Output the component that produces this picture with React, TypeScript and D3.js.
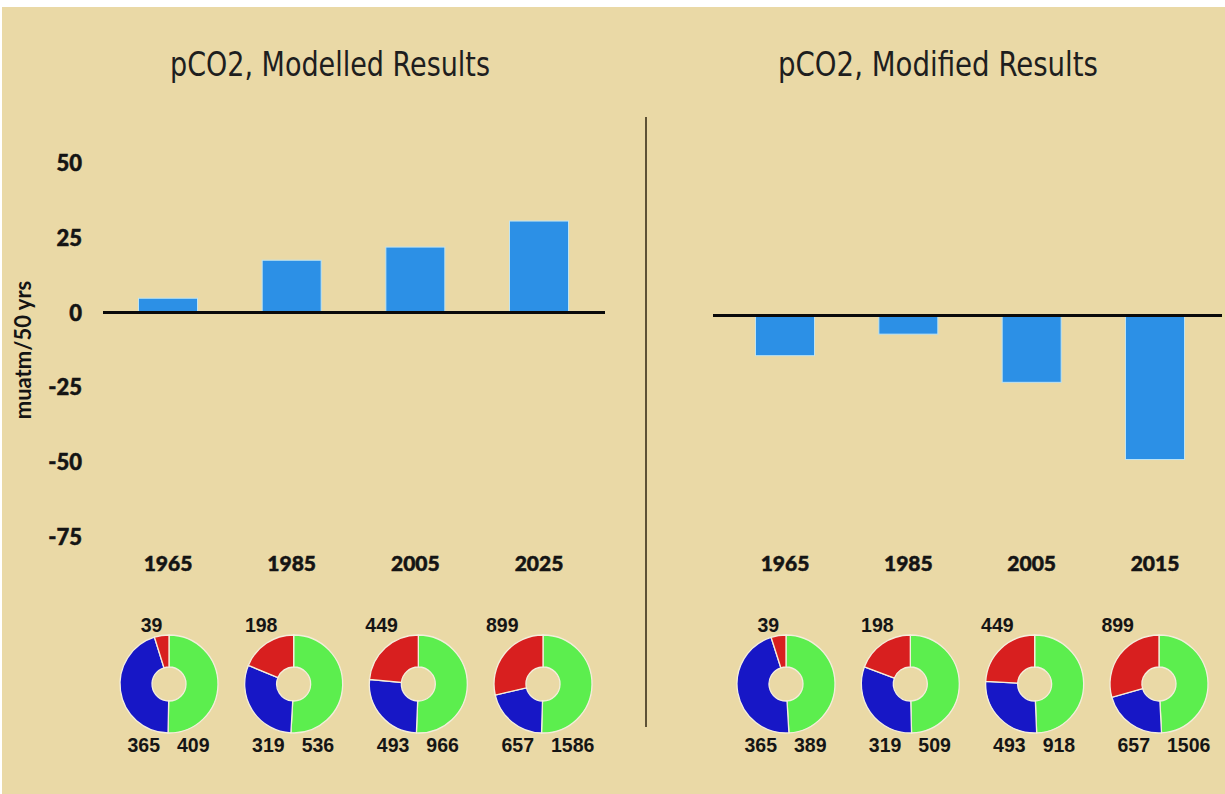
import React from "react";
import * as d3 from "d3";

const W = 1225;
const H = 794;

const leftYears = ["1965", "1985", "2005", "2025"];
const leftValues = [4.8, 17.5, 21.9, 30.6];
const rightYears = ["1965", "1985", "2005", "2015"];
const rightValues = [-13.4, -6.2, -22.3, -48.1];
const yTicks = [50, 25, 0, -25, -50, -75];

// donut values: green, blue, red
const leftGreen = [409, 536, 966, 1586];
const leftBlue = [365, 319, 493, 657];
const leftRed = [39, 198, 449, 899];
const rightGreen = [389, 509, 918, 1506];
const rightBlue = [365, 319, 493, 657];
const rightRed = [39, 198, 449, 899];

const titles = ["pCO2, Modelled Results", "pCO2, Modified Results"];
const yLabel = "muatm/50 yrs";

const BG = "#EAD9A6";
const BAR = "#2C90E6";
const COLORS = ["#5CEE4E", "#1717C6", "#D81F1F"];

const LABEL_FONT = "'Liberation Sans', Arial, sans-serif";
const LATO = "Lato, 'Open Sans', sans-serif";

function Donut({ cx, cy, values }: { cx: number; cy: number; values: number[] }) {
  const R = 49;
  const r = 17;
  const pie = d3.pie<number>().sort(null).value((d) => d)(values);
  const arc = d3.arc<d3.PieArcDatum<number>>().innerRadius(r).outerRadius(R);
  const red = pie[2];
  const mid = (red.startAngle + red.endAngle) / 2;
  const redX = cx + R * Math.sin(mid) * 0.75 - 12;
  return (
    <g>
      <g transform={`translate(${cx},${cy})`}>
        {pie.map((p, i) => (
          <path key={i} d={arc(p) || ""} fill={COLORS[i]} stroke="#F4EEDC" strokeWidth={1.3} />
        ))}
      </g>
      <text x={redX} y={632} textAnchor="middle" fontFamily={LABEL_FONT} fontWeight={700} fontSize={19.5} fill="#151515">
        {values[2]}
      </text>
      <text x={cx - 9} y={752} textAnchor="end" fontFamily={LABEL_FONT} fontWeight={700} fontSize={19.5} fill="#151515">
        {values[1]}
      </text>
      <text x={cx + 8} y={752} textAnchor="start" fontFamily={LABEL_FONT} fontWeight={700} fontSize={19.5} fill="#151515">
        {values[0]}
      </text>
    </g>
  );
}

function Panel({
  years,
  values,
  xRange,
  zeroY,
  lineX,
  title,
  titleX,
  green,
  blue,
  red,
}: {
  years: string[];
  values: number[];
  xRange: [number, number];
  zeroY: number;
  lineX: [number, number];
  title: string;
  titleX: number;
  green: number[];
  blue: number[];
  red: number[];
}) {
  const y = d3.scaleLinear().domain([-75, 50]).range([zeroY + 75 * 2.992, zeroY - 50 * 2.992]);
  const x = d3.scalePoint<string>().domain(years).range(xRange);
  const bw = 59;
  return (
    <g>
      <text
        x={titleX}
        y={76}
        textAnchor="middle"
        fontFamily="'Liberation Sans Narrow', 'DejaVu Sans Condensed', sans-serif"
        fontSize={33}
        fill="#1E1E1E"
        textLength={320}
        lengthAdjust="spacingAndGlyphs"
      >
        {title}
      </text>
      {values.map((v, i) => (
        <rect
          key={i}
          x={(x(years[i]) as number) - bw / 2}
          y={Math.min(y(v), y(0))}
          width={bw}
          height={Math.abs(y(v) - y(0))}
          fill={BAR}
          stroke="#BFE4F2"
          strokeWidth={1}
        />
      ))}
      <line x1={lineX[0]} x2={lineX[1]} y1={y(0)} y2={y(0)} stroke="#0A0A0A" strokeWidth={3} />
      {years.map((yr) => (
        <text
          key={yr}
          x={x(yr)}
          y={571}
          textAnchor="middle"
          fontFamily={LATO}
          fontWeight={900}
          fontSize={21}
          fill="#141414"
          stroke="#141414"
          strokeWidth={0.5}
        >
          {yr}
        </text>
      ))}
      {years.map((yr, i) => (
        <Donut key={yr} cx={(x(yr) as number) + 1 + i} cy={684} values={[green[i], blue[i], red[i]]} />
      ))}
    </g>
  );
}

export default function App() {
  const yAxis = d3.scaleLinear().domain([-75, 50]).range([312.6 + 75 * 2.992, 312.6 - 50 * 2.992]);
  return (
    <svg
      width={W}
      height={H}
      style={{ position: "absolute", left: 0, top: 0, display: "block" }}
      viewBox={`0 0 ${W} ${H}`}
    >
      <rect x={0} y={0} width={W} height={H} fill="#FFFFFF" />
      <rect x={2} y={7} width={W - 2} height={H - 7} fill={BG} />
      {yTicks.map((t) => (
        <text
          key={t}
          x={82}
          y={yAxis(t)}
          dy="0.36em"
          textAnchor="end"
          fontFamily={LATO}
          fontWeight={900}
          fontSize={22}
          fill="#141414"
          stroke="#141414"
          strokeWidth={0.5}
        >
          {t}
        </text>
      ))}
      <text
        transform="translate(31,350) rotate(-90)"
        textAnchor="middle"
        fontFamily={LATO}
        fontWeight={700}
        fontSize={22}
        fill="#141414"
      >
        {yLabel}
      </text>
      <line x1={646} x2={646} y1={117} y2={727} stroke="#5E5236" strokeWidth={2} />
      <Panel
        years={leftYears}
        values={leftValues}
        xRange={[168, 539]}
        zeroY={312.6}
        lineX={[103, 605]}
        title={titles[0]}
        titleX={330}
        green={leftGreen}
        blue={leftBlue}
        red={leftRed}
      />
      <Panel
        years={rightYears}
        values={rightValues}
        xRange={[785, 1155]}
        zeroY={315.6}
        lineX={[713, 1222]}
        title={titles[1]}
        titleX={938}
        green={rightGreen}
        blue={rightBlue}
        red={rightRed}
      />
    </svg>
  );
}
